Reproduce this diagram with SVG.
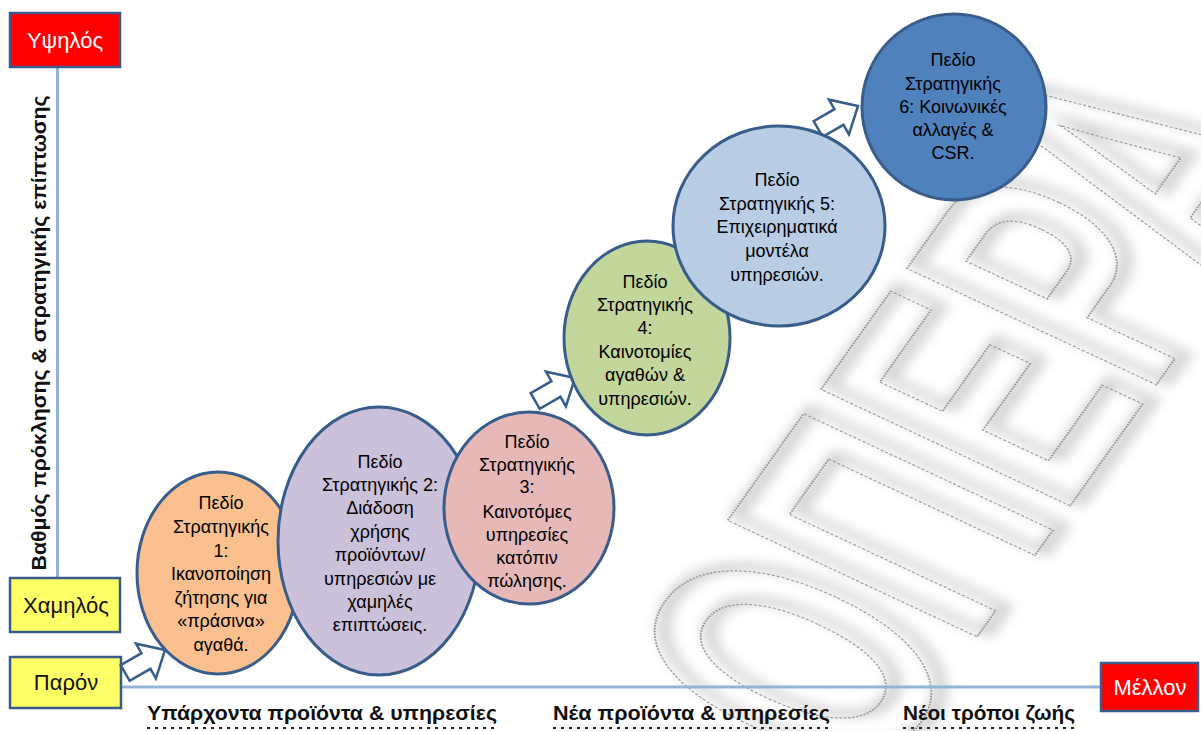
<svg xmlns="http://www.w3.org/2000/svg" width="1201" height="731" viewBox="0 0 1201 731">
<defs>
<style>
.lbl{font-family:"Liberation Sans",Arial,sans-serif;font-size:18px;fill:#000;text-anchor:middle}
.tag{font-family:"Liberation Sans",Arial,sans-serif;font-size:22px;text-anchor:middle}
.box{stroke:#385D8A;stroke-width:2.5}
.ax{stroke:#95B3D7;stroke-width:3;fill:none}
.bub{stroke:#385D8A;stroke-width:3}
.arr{fill:#fff;stroke:#385D8A;stroke-width:2.5;stroke-linejoin:miter}
.cat{font-family:"Liberation Sans",Arial,sans-serif;font-weight:bold;font-size:21px;fill:#111}
.dots{stroke:#222;stroke-width:2;stroke-dasharray:3 5}
.wm{font-family:"Liberation Sans",Arial,sans-serif;font-weight:bold;font-size:400px}
</style>
<filter id="haze" x="-20%" y="-20%" width="140%" height="140%"><feGaussianBlur stdDeviation="6"/></filter>
<path id="blk" d="M0,0 L-22,-20 L-22,-9 L-46,-9 L-46,9 L-22,9 L-22,20 Z"/>
</defs>
<rect width="1201" height="731" fill="#fff"/>

<!-- background stamp lettering -->
<g id="watermark" transform="matrix(0.58,-0.815,0.906,0.423,868,790)">
  <text class="wm" x="0" y="0" textLength="775" lengthAdjust="spacingAndGlyphs" fill="none" stroke="#000" stroke-opacity="0.16" stroke-width="16" filter="url(#haze)" transform="translate(8,5)">ΟΠΕΡΑ</text>
  <text class="wm" x="0" y="0" textLength="775" lengthAdjust="spacingAndGlyphs" fill="none" stroke="#999" stroke-width="2" stroke-dasharray="3 2">ΟΠΕΡΑ</text>
</g>

<!-- axes -->
<g id="axes">
  <line class="ax" x1="57.5" y1="67" x2="57.5" y2="578"/>
  <line class="ax" x1="121" y1="687" x2="1101" y2="687"/>
</g>

<text class="cat" transform="translate(46,333) rotate(-90)" text-anchor="middle" font-size="19" textLength="475" lengthAdjust="spacingAndGlyphs">Βαθμός πρόκλησης &amp; στρατηγικής επίπτωσης</text>

<g id="high">
  <rect class="box" x="10" y="13" width="110" height="54" fill="#FF0000"/>
  <text class="tag" x="65" y="48" fill="#fff">Υψηλός</text>
</g>
<g id="low">
  <rect class="box" x="10" y="578" width="110" height="54" fill="#FFFF66"/>
  <text class="tag" x="66" y="613" fill="#111">Χαμηλός</text>
</g>
<g id="present">
  <rect class="box" x="10" y="657" width="111" height="51" fill="#FFFF66"/>
  <text class="tag" x="66" y="690" fill="#111">Παρόν</text>
</g>
<g id="future">
  <rect class="box" x="1101" y="663" width="97" height="48" fill="#FF0000"/>
  <text class="tag" x="1150" y="695" fill="#fff">Μέλλον</text>
</g>

<!-- step arrows -->
<g id="connectors">
  <use href="#blk" class="arr" transform="translate(165,650) rotate(-30)"/>
  <use href="#blk" class="arr" transform="translate(575,378) rotate(-30)"/>
  <use href="#blk" class="arr" transform="translate(858,106) rotate(-30)"/>
</g>

<g id="field1">
  <ellipse class="bub" cx="218" cy="573" rx="81" ry="101" fill="#FAC090"/>
  <text class="lbl"><tspan x="221" y="509">Πεδίο</tspan><tspan x="221" y="533">Στρατηγικής</tspan><tspan x="221" y="557">1:</tspan><tspan x="221" y="580">Ικανοποίηση</tspan><tspan x="221" y="604">ζήτησης για</tspan><tspan x="221" y="627">«πράσινα»</tspan><tspan x="221" y="651">αγαθά.</tspan></text>
</g>
<g id="field2">
  <ellipse class="bub" cx="379" cy="541" rx="101" ry="134" fill="#CCC1DA"/>
  <text class="lbl"><tspan x="380" y="468">Πεδίο</tspan><tspan x="380" y="491">Στρατηγικής 2:</tspan><tspan x="380" y="514">Διάδοση</tspan><tspan x="380" y="538">χρήσης</tspan><tspan x="380" y="561">προϊόντων/</tspan><tspan x="380" y="585">υπηρεσιών με</tspan><tspan x="380" y="608">χαμηλές</tspan><tspan x="380" y="631">επιπτώσεις.</tspan></text>
</g>
<g id="field3">
  <ellipse class="bub" cx="529" cy="508" rx="85" ry="96" fill="#E6B9B8"/>
  <text class="lbl"><tspan x="527" y="448">Πεδίο</tspan><tspan x="527" y="471">Στρατηγικής</tspan><tspan x="527" y="493">3:</tspan><tspan x="527" y="518">Καινοτόμες</tspan><tspan x="527" y="541">υπηρεσίες</tspan><tspan x="527" y="564">κατόπιν</tspan><tspan x="527" y="587">πώλησης.</tspan></text>
</g>
<g id="field4">
  <ellipse class="bub" cx="647" cy="338" rx="83" ry="97" fill="#C3D69B"/>
  <text class="lbl"><tspan x="645" y="288">Πεδίο</tspan><tspan x="645" y="311">Στρατηγικής</tspan><tspan x="645" y="334">4:</tspan><tspan x="645" y="358">Καινοτομίες</tspan><tspan x="645" y="381">αγαθών &amp;</tspan><tspan x="645" y="405">υπηρεσιών.</tspan></text>
</g>
<g id="field5">
  <ellipse class="bub" cx="779" cy="226" rx="106" ry="100" fill="#B9CDE5"/>
  <text class="lbl"><tspan x="777" y="186">Πεδίο</tspan><tspan x="777" y="210">Στρατηγικής 5:</tspan><tspan x="777" y="233">Επιχειρηματικά</tspan><tspan x="777" y="257">μοντέλα</tspan><tspan x="777" y="281">υπηρεσιών.</tspan></text>
</g>
<g id="field6">
  <ellipse class="bub" cx="954" cy="107" rx="92" ry="93" fill="#4F81BD"/>
  <text class="lbl"><tspan x="953" y="66">Πεδίο</tspan><tspan x="953" y="90">Στρατηγικής</tspan><tspan x="953" y="113">6: Κοινωνικές</tspan><tspan x="953" y="136">αλλαγές &amp;</tspan><tspan x="953" y="159">CSR.</tspan></text>
</g>

<!-- horizon categories -->
<g id="categories">
  <text class="cat" x="147" y="720" textLength="350" lengthAdjust="spacingAndGlyphs">Υπάρχοντα προϊόντα &amp; υπηρεσίες</text>
  <line class="dots" x1="147" y1="728" x2="497" y2="728"/>
  <text class="cat" x="553" y="720" textLength="277" lengthAdjust="spacingAndGlyphs">Νέα προϊόντα &amp; υπηρεσίες</text>
  <line class="dots" x1="553" y1="728" x2="830" y2="728"/>
  <text class="cat" x="903" y="720" textLength="172" lengthAdjust="spacingAndGlyphs">Νέοι τρόποι ζωής</text>
  <line class="dots" x1="903" y1="728" x2="1075" y2="728"/>
</g>
</svg>
